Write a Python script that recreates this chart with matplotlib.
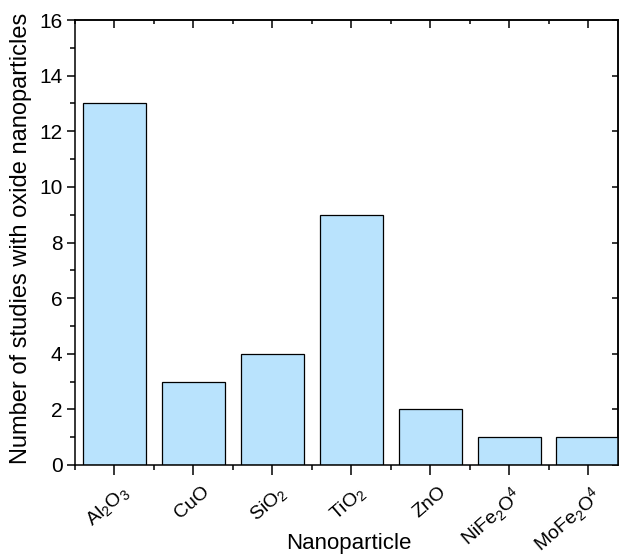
import matplotlib
matplotlib.use("Agg")
import matplotlib.pyplot as plt
from matplotlib.ticker import MultipleLocator, FixedLocator
from matplotlib.transforms import ScaledTranslation, blended_transform_factory

plt.rcParams['font.family'] = ['Liberation Sans', 'DejaVu Sans']
plt.rcParams['mathtext.fontset'] = 'custom'
plt.rcParams['mathtext.rm'] = 'Liberation Sans'

categories = [r'Al$_2$O$_3$', 'CuO', r'SiO$_2$', r'TiO$_2$', 'ZnO',
              r'NiFe$_2$O$^4$', r'MoFe$_2$O$^4$']
values = [13, 3, 4, 9, 2, 1, 1]
y_ticks = [0, 2, 4, 6, 8, 10, 12, 14, 16]

fig = plt.figure(figsize=(6.23, 5.58), dpi=100)
ax = fig.add_axes([75/623, 1-465/558, (618-75)/623, (465-20)/558])

x = list(range(len(categories)))
ax.bar(x, values, width=0.8, color='#B9E3FD', edgecolor='black', linewidth=0.9, zorder=2)

ax.set_xlim(-0.5, 6.38)
ax.set_ylim(0, 16)
ax.set_xticks(x)
ax.set_xticklabels([])
ax.set_yticks(y_ticks)
ax.set_yticklabels([str(v) for v in y_ticks], fontsize=15)
ax.xaxis.set_minor_locator(FixedLocator([i - 0.5 for i in range(len(categories))]))
ax.yaxis.set_minor_locator(MultipleLocator(1))

for s in ax.spines.values():
    s.set_linewidth(1.1)
    s.set_zorder(3)

ax.tick_params(axis='x', which='major', direction='inout', length=14, width=1.1, top=False)
ax.tick_params(axis='x', which='minor', direction='out', length=3.5, width=1.1, top=False)
ax.tick_params(axis='y', which='major', direction='out', length=6, width=1.1, right=False, pad=3)
ax.tick_params(axis='y', which='minor', direction='out', length=3.5, width=1.1, right=False)

# rotated category labels: top-right corner offset from each tick
trans = blended_transform_factory(ax.transData, ax.transAxes) + \
    ScaledTranslation(19/100, -18/100, fig.dpi_scale_trans)
for xi, cat in zip(x, categories):
    ax.text(xi, 0, cat, transform=trans, rotation=41, ha='right', va='top',
            fontsize=14, clip_on=False)

# top axis ticks (inward)
axt = ax.secondary_xaxis('top')
axt.set_xticks(x)
axt.set_xticklabels([])
axt.xaxis.set_minor_locator(FixedLocator([i - 0.5 for i in range(len(categories))]))
axt.tick_params(which='major', direction='in', length=6, width=1.1)
axt.tick_params(which='minor', direction='in', length=3, width=1.1)
axt.spines['top'].set_linewidth(1.1)

# right axis ticks (inward, major only)
axr = ax.secondary_yaxis('right')
axr.set_yticks(y_ticks)
axr.set_yticklabels([])
axr.tick_params(which='major', direction='in', length=4, width=1.1)
axr.spines['right'].set_linewidth(1.1)

ax.set_xlabel('Nanoparticle', fontsize=16)
ax.xaxis.set_label_coords(0.505, -0.152)
ax.set_ylabel('Number of studies with oxide nanoparticles', fontsize=17)
ax.yaxis.set_label_coords(-0.08, 0.51)

fig.savefig('out.png', dpi=100)
